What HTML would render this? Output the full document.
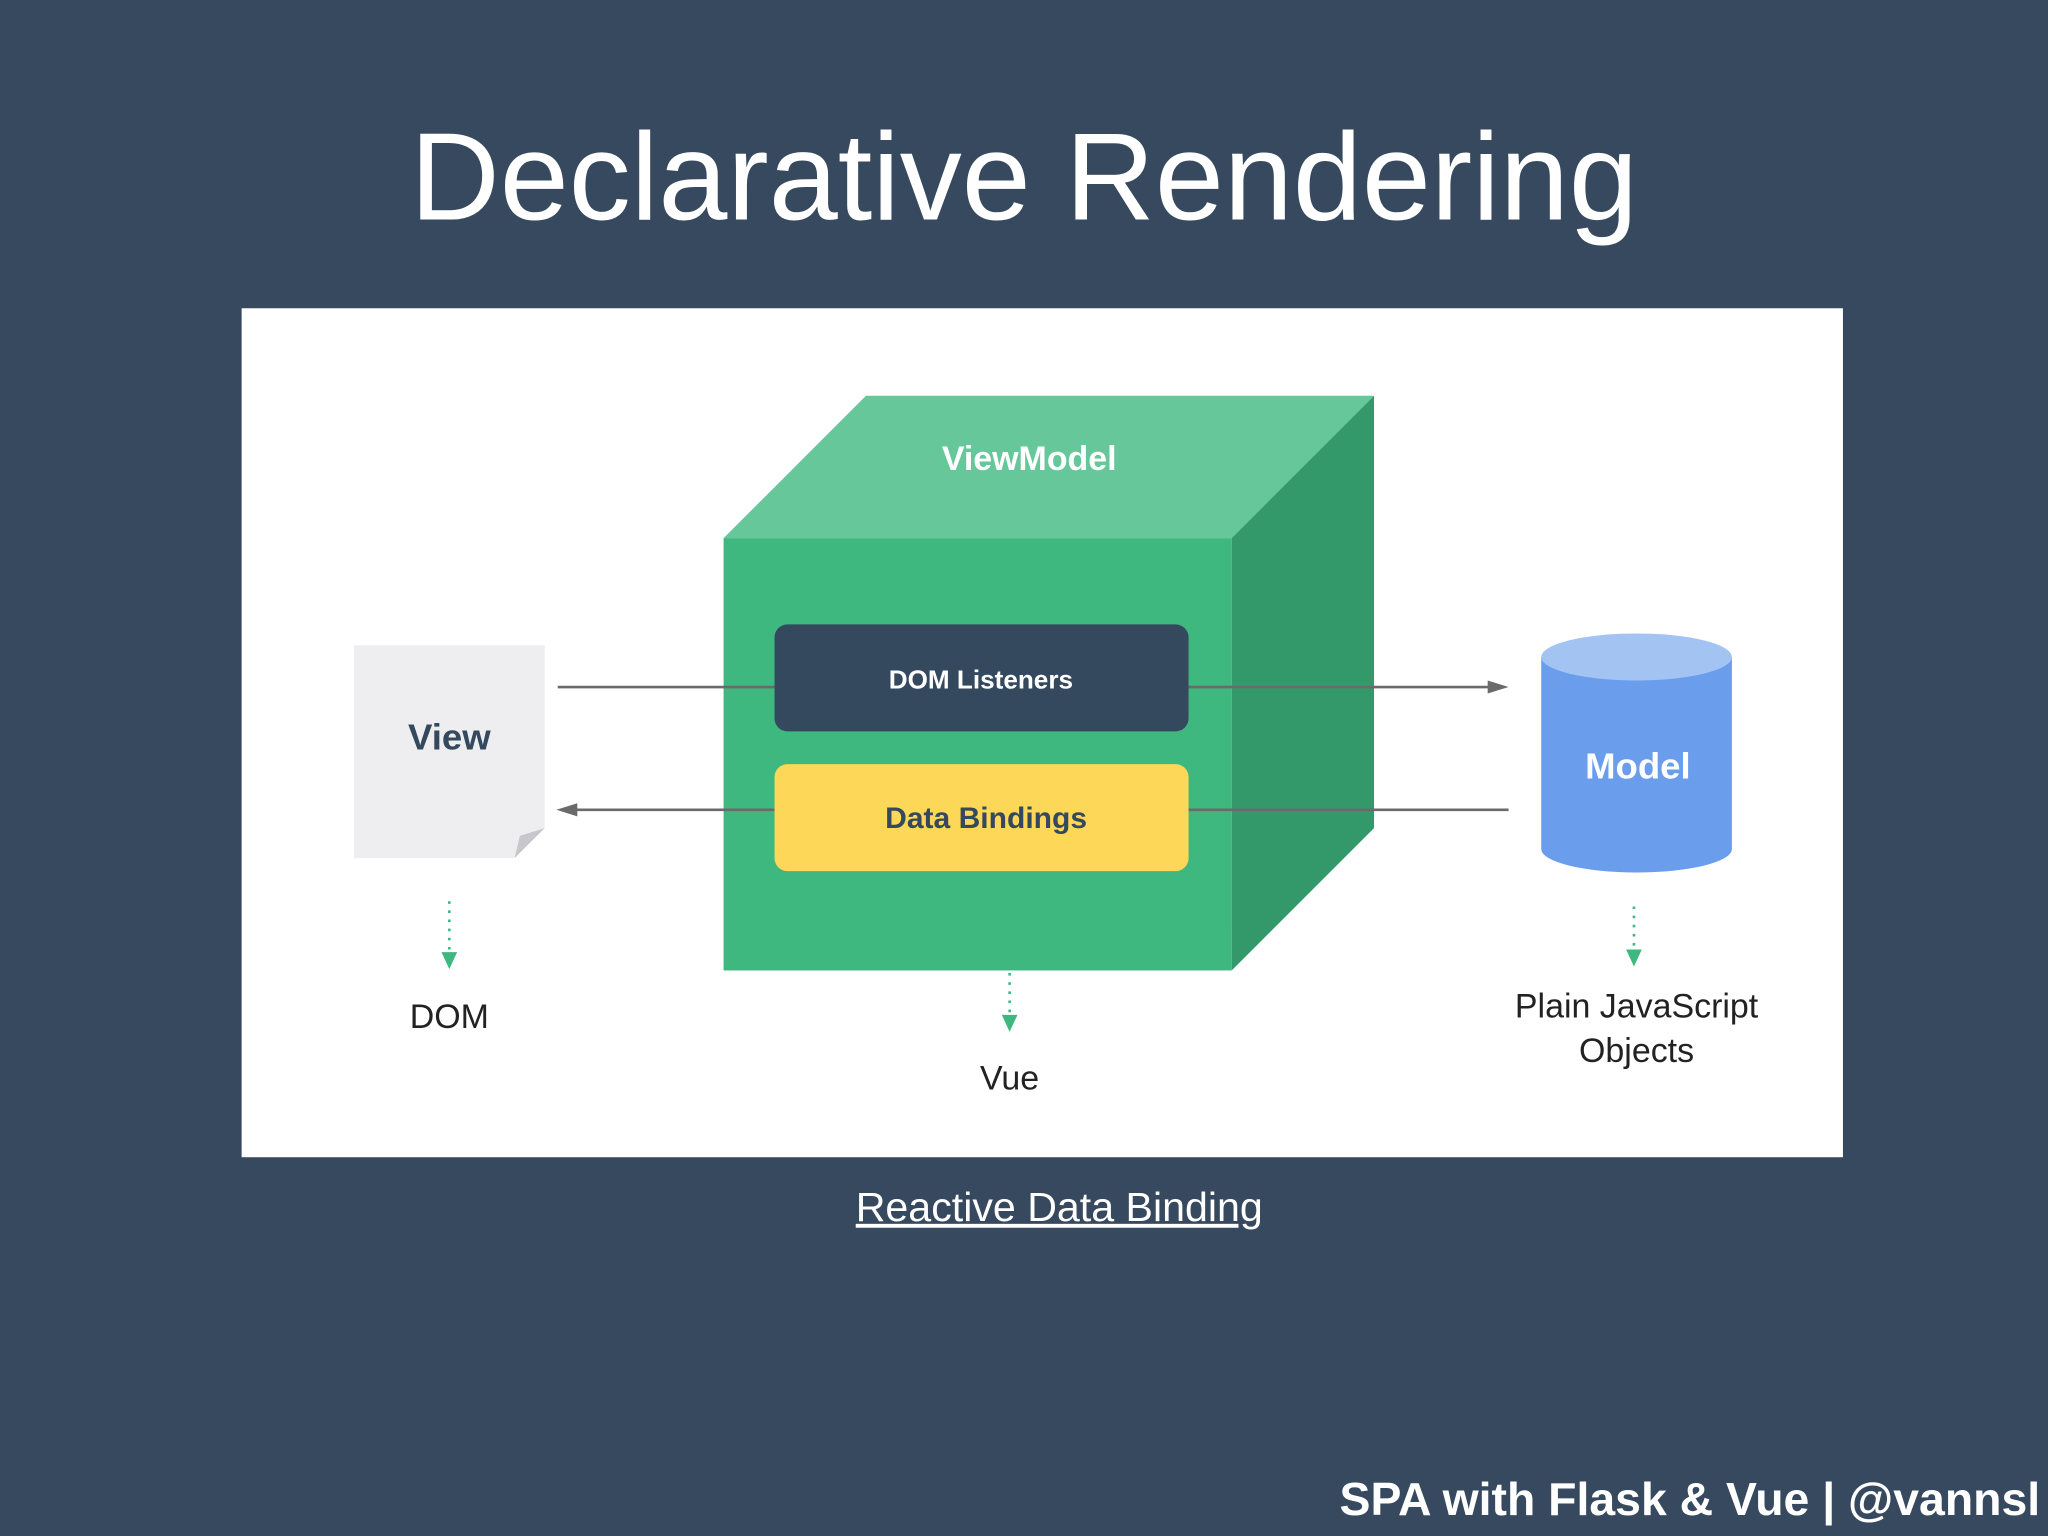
<!DOCTYPE html>
<html><head><meta charset="utf-8"><style>
html,body{margin:0;padding:0;width:2048px;height:1536px;overflow:hidden;background:#36495f}
#w{position:absolute;left:0;top:0;width:1568px;height:1176px;transform:scale(1.306122);transform-origin:0 0;font-family:"Liberation Sans",sans-serif}
.t{position:absolute;left:0;width:1568px;text-align:center;color:#fff}
</style></head><body><div id="w">
<div class="t" style="top:81px;font-size:95px;line-height:110px;">Declarative Rendering</div>
<svg style="position:absolute;left:0;top:0" width="1568" height="1176">
<rect x="185" y="236" width="1226" height="650" fill="#fff"/>
<polygon points="554,412 663,303 1052,303 943,412" fill="#66c79a"/>
<polygon points="943,412 1052,303 1052,634 943,743" fill="#34996a"/>
<rect x="554" y="412" width="389" height="331" fill="#3fb87f"/>
<line x1="427" y1="526" x2="1145" y2="526" stroke="#6a6a6a" stroke-width="2"/>
<polygon points="1155,526 1139,521 1139,531" fill="#6a6a6a"/>
<line x1="436" y1="620" x2="1155" y2="620" stroke="#6a6a6a" stroke-width="2"/>
<polygon points="426,620 442,615 442,625" fill="#6a6a6a"/>
<rect x="593" y="478" width="317" height="82" rx="10" fill="#35495e"/>
<rect x="593" y="585" width="317" height="82" rx="10" fill="#fdd757"/>
<polygon points="271,494 417,494 417,634 394,657 271,657" fill="#eeeef0"/>
<polygon points="394,657 417,634 398,640" fill="#c8c8cc"/>
<path d="M1180,503 L1180,650 A73,18 0 0 0 1326,650 L1326,503 Z" fill="#6b9ded"/>
<ellipse cx="1253" cy="503" rx="73" ry="18" fill="#a3c4f3"/>
<g stroke="#3fb87f" stroke-width="2" stroke-dasharray="2,5">
<line x1="344" y1="690" x2="344" y2="730"/><line x1="773" y1="745" x2="773" y2="778"/><line x1="1251" y1="694" x2="1251" y2="728"/></g>
<g fill="#3fb87f"><polygon points="338,729 350,729 344,742"/><polygon points="767,777 779,777 773,790"/><polygon points="1245,727 1257,727 1251,740"/></g>
<g font-family="Liberation Sans, sans-serif" text-anchor="middle" font-weight="bold">
<text x="788" y="360" fill="#fff" font-size="26">ViewModel</text>
<text x="751" y="527" fill="#fff" font-size="20">DOM Listeners</text>
<text x="755" y="634" fill="#35495e" font-size="23">Data Bindings</text>
<text x="344" y="574" fill="#35495e" font-size="28">View</text>
<text x="1254" y="596" fill="#fff" font-size="28">Model</text>
</g>
<g font-family="Liberation Sans, sans-serif" text-anchor="middle" fill="#222" font-size="26">
<text x="344" y="787">DOM</text><text x="773" y="834">Vue</text>
<text x="1253" y="779">Plain JavaScript</text><text x="1253" y="813">Objects</text>
</g>
</svg>
<div class="t" style="top:906px;left:27px;font-size:31.5px;line-height:36px;text-decoration:underline">Reactive Data Binding</div>
<div style="position:absolute;right:6px;top:1126px;font-size:35.5px;line-height:44px;font-weight:bold;color:#fff">SPA with Flask &amp; Vue | @vannsl</div>
</div></body></html>
